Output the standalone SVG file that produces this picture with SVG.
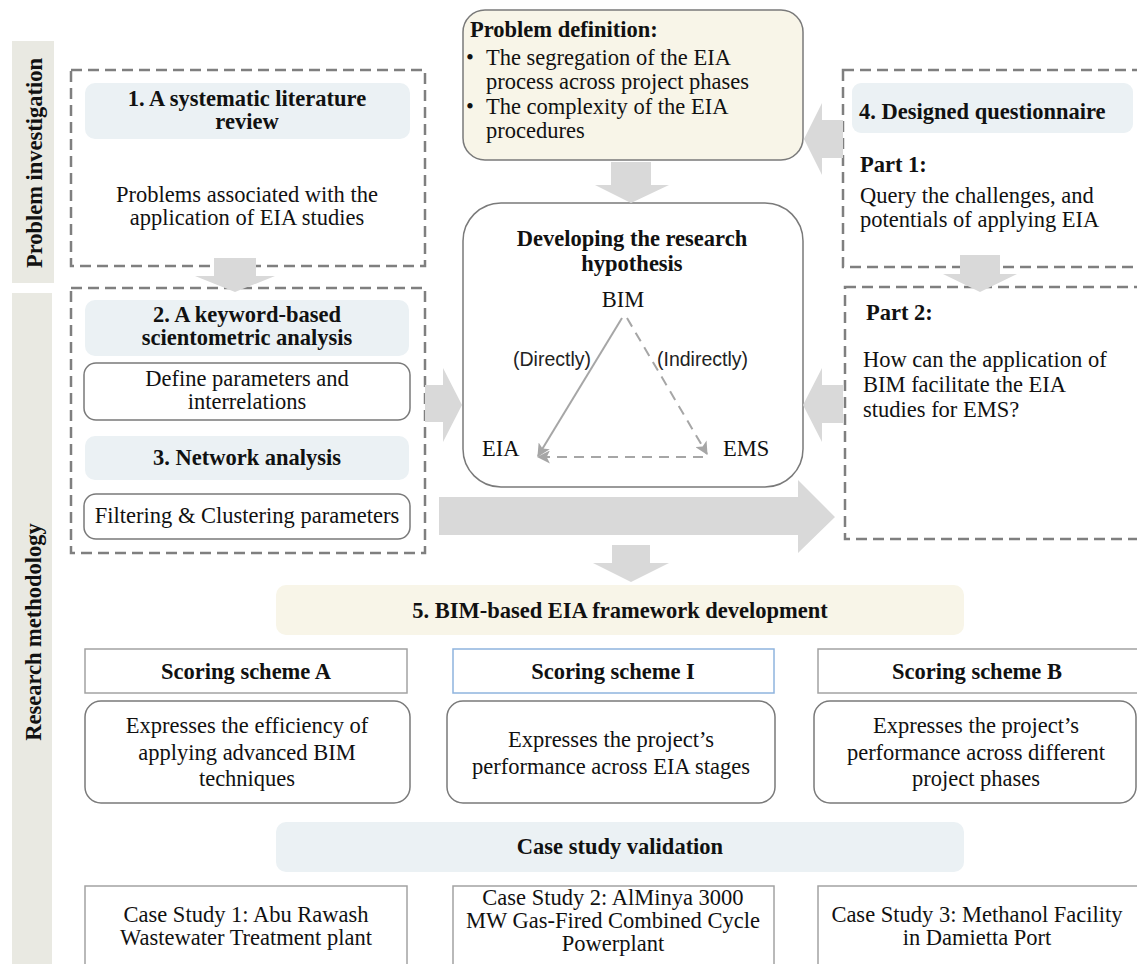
<svg xmlns="http://www.w3.org/2000/svg" width="1137" height="964" viewBox="0 0 1137 964">
  <style>
    .serif { font-family: "Liberation Serif", "Times New Roman", serif; fill: #111; font-size: 22.5px; }
    .b { font-weight: bold; }
    .sans { font-family: "Liberation Sans", Arial, sans-serif; font-size: 19.5px; fill: #222; }
    .band { fill: #e9e9e2; }
    .dash { fill: none; stroke: #7f7f7f; stroke-width: 2.5; stroke-dasharray: 11 6; }
    .head { fill: #ebf1f4; }
    .cream { fill: #f8f5e8; }
    .rbox { fill: #fff; stroke: #7a7a7a; stroke-width: 1.5; }
    .sq { fill: #fff; stroke: #a3a3a3; stroke-width: 1.5; }
    .sqblue { fill: #fff; stroke: #8fb4de; stroke-width: 1.5; }
    .blk { fill: #d9d9d9; }
    .rel { stroke: #a6a6a6; stroke-width: 2; fill: none; }
    .reld { stroke: #a6a6a6; stroke-width: 2; fill: none; stroke-dasharray: 10 7; }
  </style>
  <defs>
    <marker id="tip" viewBox="0 0 12 12" refX="11" refY="6" markerWidth="13" markerHeight="13" markerUnits="userSpaceOnUse" orient="auto">
      <path d="M0,0 L12,6 L0,12 L3,6 z" fill="#a6a6a6"/>
    </marker>
  </defs>

  <rect width="1137" height="964" fill="#fff"/>

  <!-- side bands -->
  <g id="band-investigation">
    <rect class="band" x="12" y="41" width="42" height="242"/>
    <text class="serif b" transform="translate(42,163) rotate(-90)" text-anchor="middle">Problem investigation</text>
  </g>
  <g id="band-methodology">
    <rect class="band" x="12" y="293" width="40" height="680"/>
    <text class="serif b" transform="translate(41,632) rotate(-90)" text-anchor="middle">Research methodology</text>
  </g>

  <!-- 1. literature review -->
  <g id="node-review">
    <rect class="dash" x="71" y="70" width="354" height="196"/>
    <rect class="head" x="85" y="83" width="325" height="56" rx="10"/>
    <text class="serif b" x="247" y="106" text-anchor="middle">1. A systematic literature</text>
    <text class="serif b" x="247" y="129" text-anchor="middle">review</text>
    <text class="serif" x="247" y="202" text-anchor="middle">Problems associated with the</text>
    <text class="serif" x="247" y="225" text-anchor="middle">application of EIA studies</text>
  </g>

  <!-- 2 & 3. scientometric and network analysis -->
  <g id="node-analysis">
    <rect class="dash" x="71" y="288" width="354" height="265"/>
    <rect class="head" x="85" y="300" width="324" height="56" rx="10"/>
    <text class="serif b" x="247" y="322" text-anchor="middle">2. A keyword-based</text>
    <text class="serif b" x="247" y="345" text-anchor="middle">scientometric analysis</text>
    <rect class="rbox" x="84" y="363" width="326" height="57" rx="12"/>
    <text class="serif" x="247" y="386" text-anchor="middle">Define parameters and</text>
    <text class="serif" x="247" y="409" text-anchor="middle">interrelations</text>
    <rect class="head" x="85" y="436" width="324" height="44" rx="10"/>
    <text class="serif b" x="247" y="465" text-anchor="middle">3. Network analysis</text>
    <rect class="rbox" x="84" y="494" width="326" height="45" rx="12"/>
    <text class="serif" x="247" y="523" text-anchor="middle">Filtering &amp; Clustering parameters</text>
  </g>

  <!-- problem definition -->
  <g id="node-problem">
    <rect class="cream" x="463" y="10" width="340" height="150" rx="22" stroke="#7a7a7a" stroke-width="1.5"/>
    <text class="serif b" x="470" y="37" font-size="24">Problem definition:</text>
    <text class="serif" x="466" y="65" font-size="23">•</text>
    <text class="serif" x="486" y="65" font-size="23">The segregation of the EIA</text>
    <text class="serif" x="486" y="89" font-size="23">process across project phases</text>
    <text class="serif" x="466" y="114" font-size="23">•</text>
    <text class="serif" x="486" y="114" font-size="23">The complexity of the EIA</text>
    <text class="serif" x="486" y="138" font-size="23">procedures</text>
  </g>

  <!-- hypothesis -->
  <g id="node-hypothesis">
    <rect class="rbox" x="463" y="203" width="340" height="284" rx="38"/>
    <text class="serif b" x="632" y="246" text-anchor="middle">Developing the research</text>
    <text class="serif b" x="632" y="271" text-anchor="middle">hypothesis</text>
    <text class="serif" x="623" y="307" text-anchor="middle">BIM</text>
    <text class="serif" x="482" y="456">EIA</text>
    <text class="serif" x="723" y="456">EMS</text>
    <text class="sans" x="513" y="366">(Directly)</text>
    <text class="sans" x="657" y="366">(Indirectly)</text>
  </g>

  <!-- 4. questionnaire part 1 -->
  <g id="node-questionnaire">
    <rect class="dash" x="843" y="70" width="310" height="197"/>
    <rect class="head" x="852" y="83" width="281" height="50" rx="9"/>
    <text class="serif b" x="859" y="119" font-size="25">4. Designed questionnaire</text>
    <text class="serif b" x="860" y="172">Part 1:</text>
    <text class="serif" x="860" y="203" font-size="23.5">Query the challenges, and</text>
    <text class="serif" x="860" y="227" font-size="23.5">potentials of applying EIA</text>
  </g>

  <!-- questionnaire part 2 -->
  <g id="node-part2">
    <rect class="dash" x="845" y="287" width="310" height="252"/>
    <text class="serif b" x="866" y="320">Part 2:</text>
    <text class="serif" x="863" y="367">How can the application of</text>
    <text class="serif" x="863" y="392">BIM  facilitate the EIA</text>
    <text class="serif" x="863" y="417">studies for EMS?</text>
  </g>

  <!-- 5. framework -->
  <g id="node-framework">
    <rect class="cream" x="276" y="585" width="688" height="50" rx="10"/>
    <text class="serif b" x="620" y="618" text-anchor="middle">5. BIM-based EIA framework development</text>
  </g>

  <g id="node-scheme-a">
    <rect class="sq" x="85" y="649" width="322" height="44"/>
    <text class="serif b" x="246" y="679" text-anchor="middle">Scoring scheme A</text>
    <rect class="rbox" x="85" y="701" width="325" height="102" rx="16"/>
    <text class="serif" x="247" y="733" text-anchor="middle">Expresses the efficiency of</text>
    <text class="serif" x="247" y="760" text-anchor="middle">applying advanced BIM</text>
    <text class="serif" x="247" y="786" text-anchor="middle">techniques</text>
  </g>

  <g id="node-scheme-i">
    <rect class="sqblue" x="453" y="649" width="321" height="44"/>
    <text class="serif b" x="613" y="679" text-anchor="middle">Scoring scheme I</text>
    <rect class="rbox" x="447" y="701" width="328" height="102" rx="16"/>
    <text class="serif" x="611" y="747" text-anchor="middle">Expresses the project’s</text>
    <text class="serif" x="611" y="774" text-anchor="middle">performance across EIA stages</text>
  </g>

  <g id="node-scheme-b">
    <rect class="sq" x="818" y="649" width="330" height="44"/>
    <text class="serif b" x="977" y="679" text-anchor="middle">Scoring scheme B</text>
    <rect class="rbox" x="814" y="701" width="322" height="102" rx="16"/>
    <text class="serif" x="976" y="733" text-anchor="middle">Expresses the project’s</text>
    <text class="serif" x="976" y="760" text-anchor="middle">performance across different</text>
    <text class="serif" x="976" y="786" text-anchor="middle">project phases</text>
  </g>

  <g id="node-validation">
    <rect class="head" x="276" y="822" width="688" height="50" rx="10"/>
    <text class="serif b" x="620" y="854" text-anchor="middle">Case study validation</text>
  </g>

  <g id="node-case1">
    <rect class="sq" x="85" y="886" width="322" height="90"/>
    <text class="serif" x="246" y="922" text-anchor="middle">Case Study 1: Abu Rawash</text>
    <text class="serif" x="246" y="945" text-anchor="middle">Wastewater Treatment plant</text>
  </g>
  <g id="node-case2">
    <rect class="sq" x="453" y="886" width="321" height="90"/>
    <text class="serif" x="613" y="905" text-anchor="middle">Case Study 2: AlMinya 3000</text>
    <text class="serif" x="613" y="928" text-anchor="middle">MW Gas-Fired Combined Cycle</text>
    <text class="serif" x="613" y="951" text-anchor="middle">Powerplant</text>
  </g>
  <g id="node-case3">
    <rect class="sq" x="818" y="886" width="330" height="90"/>
    <text class="serif" x="977" y="922" text-anchor="middle">Case Study 3: Methanol Facility</text>
    <text class="serif" x="977" y="945" text-anchor="middle">in Damietta Port</text>
  </g>

  <!-- block arrows and hypothesis relations, drawn over the boxes -->
  <g id="connectors">
    <polygon class="blk" points="214,258 256,258 256,276 275,276 235,292 195,276 214,276"/>
    <polygon class="blk" points="611,162 651,162 651,185 669,185 631,203 595,185 611,185"/>
    <polygon class="blk" points="843,120 822,120 822,103 804,139 822,175 822,158 843,158"/>
    <polygon class="blk" points="960,255 1000,255 1000,274 1017,274 980,292 943,274 960,274"/>
    <polygon class="blk" points="425,385 443,385 443,368 462,405 443,442 443,422 425,422"/>
    <polygon class="blk" points="843,385 822,385 822,368 803,405 822,442 822,423 843,423"/>
    <polygon class="blk" points="439,497 798,497 798,480 835,517 798,553 798,535 439,535"/>
    <polygon class="blk" points="612,545 650,545 650,563 669,563 631,582 593,563 612,563"/>
    <line class="rel" x1="622" y1="318" x2="538" y2="456" marker-end="url(#tip)"/>
    <line class="reld" x1="627" y1="318" x2="707" y2="454" marker-end="url(#tip)"/>
    <line class="reld" x1="703" y1="457" x2="538" y2="457" marker-end="url(#tip)"/>
  </g>
</svg>
